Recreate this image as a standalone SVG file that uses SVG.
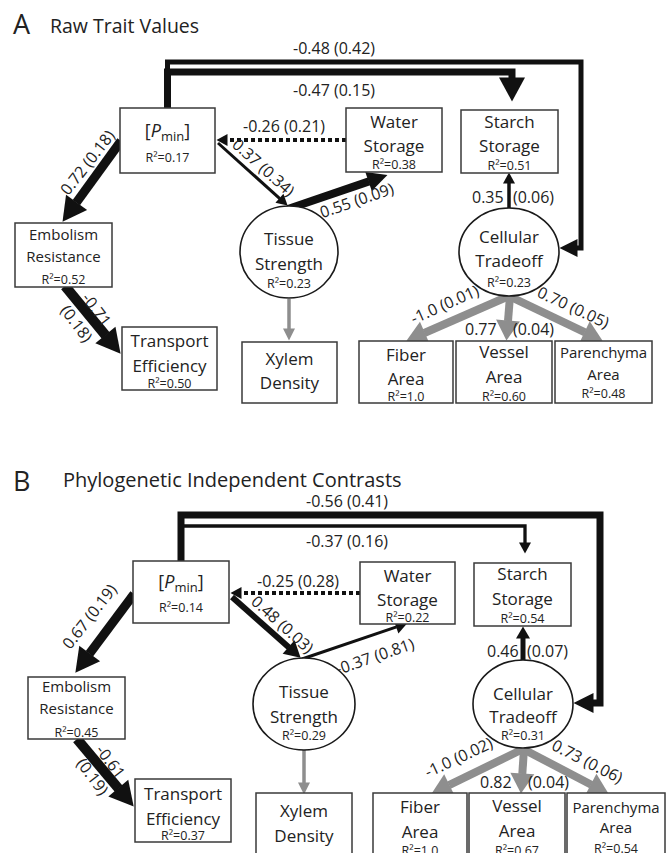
<svg xmlns="http://www.w3.org/2000/svg" width="671" height="853" viewBox="0 0 671 853">
<style>
.box{fill:#fff;stroke:#3a3a3a;stroke-width:1.5}
.ell{fill:#fff;stroke:#1a1a1a;stroke-width:1.6}
text{font-family:"Open Sans","DejaVu Sans",sans-serif;fill:#222}
.n{font-size:17px;text-anchor:middle}
.ns{font-size:15px;text-anchor:middle}
.r2{font-size:12.5px;text-anchor:middle}
.lab{font-size:16px}
.labc{font-size:16px;text-anchor:middle}
.blk{stroke:#111;fill:none}
.gry{stroke:#8e8e8e;fill:none}
.dot{stroke:#111;fill:none;stroke-width:4;stroke-dasharray:4 3}
</style>
<defs>
<marker id="mB24" markerUnits="userSpaceOnUse" orient="auto" refX="0.5" refY="0" markerWidth="30" markerHeight="30" overflow="visible"><path d="M0,-13 L24,0 L0,13 Z" fill="#111"/></marker>
<marker id="mB20" markerUnits="userSpaceOnUse" orient="auto" refX="0.5" refY="0" markerWidth="30" markerHeight="30" overflow="visible"><path d="M0,-10 L20,0 L0,10 Z" fill="#111"/></marker>
<marker id="mB18" markerUnits="userSpaceOnUse" orient="auto" refX="0.5" refY="0" markerWidth="30" markerHeight="30" overflow="visible"><path d="M0,-9 L18,0 L0,9 Z" fill="#111"/></marker>
<marker id="mB16" markerUnits="userSpaceOnUse" orient="auto" refX="0.5" refY="0" markerWidth="30" markerHeight="30" overflow="visible"><path d="M0,-9 L16,0 L0,9 Z" fill="#111"/></marker>
<marker id="mB12" markerUnits="userSpaceOnUse" orient="auto" refX="0.5" refY="0" markerWidth="30" markerHeight="30" overflow="visible"><path d="M0,-7 L12,0 L0,7 Z" fill="#111"/></marker>
<marker id="mBs" markerUnits="userSpaceOnUse" orient="auto" refX="0.5" refY="0" markerWidth="30" markerHeight="30" overflow="visible"><path d="M0,-6 L11,0 L0,6 Z" fill="#111"/></marker>
<marker id="mG20" markerUnits="userSpaceOnUse" orient="auto" refX="0.5" refY="0" markerWidth="30" markerHeight="30" overflow="visible"><path d="M0,-12 L20,0 L0,12 Z" fill="#8e8e8e"/></marker>
<marker id="mGs" markerUnits="userSpaceOnUse" orient="auto" refX="0.5" refY="0" markerWidth="30" markerHeight="30" overflow="visible"><path d="M0,-6 L12,0 L0,6 Z" fill="#8e8e8e"/></marker>
</defs>
<rect width="671" height="853" fill="#fff"/>

<!-- Titles -->
<text x="13" y="34" style="font-size:27px">A</text>
<text x="50" y="33" style="font-size:19.5px">Raw Trait Values</text>
<text x="13" y="491" style="font-size:27px">B</text>
<text x="63" y="487" style="font-size:20px">Phylogenetic Independent Contrasts</text>

<!-- Connectors -->
<g id="connectors">
 <!-- Panel A -->
 <path class="blk" stroke-width="5" d="M167.5,108 V62 H581 V248 H577" marker-end="url(#mB18)"/>
 <path class="blk" stroke-width="7" d="M167.5,108 V72 H512 V78" marker-end="url(#mB24)"/>
 <line class="blk" stroke-width="9" x1="121" y1="141" x2="76.3" y2="202.7" marker-end="url(#mB24)"/>
 <line class="blk" stroke-width="10" x1="65" y1="286" x2="105.7" y2="335.5" marker-end="url(#mB24)"/>
 <line class="blk" stroke-width="3" x1="218" y1="143" x2="279.8" y2="198.6" marker-end="url(#mBs)"/>
 <line class="blk" stroke-width="8" x1="288" y1="209" x2="369" y2="181.4" marker-end="url(#mB20)"/>
 <line class="dot" x1="346" y1="140" x2="227" y2="140" marker-end="url(#mBs)"/>
 <line class="blk" stroke-width="3.5" x1="509" y1="208" x2="509" y2="183" marker-end="url(#mBs)"/>
 <line class="gry" stroke-width="3.5" x1="289" y1="299" x2="289" y2="329" marker-end="url(#mGs)"/>
 <line class="gry" stroke-width="8" x1="509" y1="296" x2="424.3" y2="333" marker-end="url(#mG20)"/>
 <line class="gry" stroke-width="8" x1="510" y1="296" x2="508" y2="321" marker-end="url(#mG20)"/>
 <line class="gry" stroke-width="8" x1="509" y1="296" x2="585" y2="332.4" marker-end="url(#mG20)"/>
 <!-- Panel B -->
 <path class="blk" stroke-width="7" d="M181,561 V515 H600 V703 H593" marker-end="url(#mB20)"/>
 <path class="blk" stroke-width="3.3" d="M181,561 V526 H525 V543" marker-end="url(#mBs)"/>
 <line class="blk" stroke-width="9" x1="134" y1="594" x2="89.4" y2="653.8" marker-end="url(#mB24)"/>
 <line class="blk" stroke-width="10" x1="77" y1="739" x2="118.6" y2="788.6" marker-end="url(#mB24)"/>
 <line class="blk" stroke-width="6" x1="232" y1="597" x2="289" y2="647.4" marker-end="url(#mB16)"/>
 <line class="blk" stroke-width="3" x1="302" y1="659" x2="396.6" y2="626.8" marker-end="url(#mB12)"/>
 <line class="dot" x1="360" y1="593" x2="241" y2="593" marker-end="url(#mBs)"/>
 <line class="blk" stroke-width="5" x1="523" y1="661" x2="523" y2="638" marker-end="url(#mB12)"/>
 <line class="gry" stroke-width="3.5" x1="304" y1="750" x2="304" y2="783" marker-end="url(#mGs)"/>
 <line class="gry" stroke-width="8" x1="523" y1="749" x2="449" y2="785.2" marker-end="url(#mG20)"/>
 <line class="gry" stroke-width="8" x1="524" y1="749" x2="522.3" y2="774" marker-end="url(#mG20)"/>
 <line class="gry" stroke-width="8" x1="523" y1="749" x2="591.3" y2="784.7" marker-end="url(#mG20)"/>
</g>

<!-- Edge labels -->
<g id="edge-labels">
 <text class="lab" x="293" y="54">-0.48 (0.42)</text>
 <text class="lab" x="293" y="96">-0.47 (0.15)</text>
 <text class="lab" x="243" y="132">-0.26 (0.21)</text>
 <text class="labc" transform="translate(263,168) rotate(42)" y="5">0.37 (0.34)</text>
 <text class="labc" transform="translate(357,201) rotate(-19)" y="5">0.55 (0.09)</text>
 <text class="labc" transform="translate(88,163) rotate(-52)" y="5">0.72 (0.18)</text>
 <text class="labc" transform="translate(96,310) rotate(53)" y="5">-0.71</text>
 <text class="labc" transform="translate(76,324) rotate(53)" y="5">(0.18)</text>
 <text class="lab" x="472" y="203">0.35</text>
 <text class="lab" x="513" y="203">(0.06)</text>
 <text class="labc" transform="translate(445,305) rotate(-24)" y="5">-1.0 (0.01)</text>
 <text class="lab" x="465" y="335">0.77</text>
 <text class="lab" x="513" y="335">(0.04)</text>
 <text class="labc" transform="translate(573,308) rotate(25)" y="5">0.70 (0.05)</text>

 <text class="lab" x="306" y="507">-0.56 (0.41)</text>
 <text class="lab" x="306" y="547">-0.37 (0.16)</text>
 <text class="lab" x="257" y="587">-0.25 (0.28)</text>
 <text class="labc" transform="translate(282,625) rotate(42)" y="5">0.48 (0.03)</text>
 <text class="labc" transform="translate(375,657) rotate(-19)" y="5">-0.37 (0.81)</text>
 <text class="labc" transform="translate(90,617) rotate(-52)" y="5">0.67 (0.19)</text>
 <text class="labc" transform="translate(110,762) rotate(53)" y="5">-0.61</text>
 <text class="labc" transform="translate(92,777) rotate(53)" y="5">(0.19)</text>
 <text class="lab" x="487" y="657">0.46</text>
 <text class="lab" x="527" y="657">(0.07)</text>
 <text class="labc" transform="translate(459,758) rotate(-25)" y="5">-1.0 (0.02)</text>
 <text class="lab" x="480" y="788">0.82</text>
 <text class="lab" x="528" y="788">(0.04)</text>
 <text class="labc" transform="translate(587,762) rotate(27)" y="5">0.73 (0.06)</text>
</g>

<!-- Panel A nodes -->
<g id="A-pmin">
 <rect class="box" x="120" y="108" width="95" height="65"/>
 <text class="n" x="167.5" y="137" style="font-size:18px">[<tspan font-style="italic">P</tspan><tspan font-size="13" dy="4">min</tspan><tspan dy="-4">]</tspan></text>
 <text class="r2" x="167.5" y="162">R²=0.17</text>
</g>
<g id="A-water">
 <rect class="box" x="346" y="108" width="96" height="64"/>
 <text class="n" x="394" y="128">Water</text>
 <text class="n" x="394" y="152">Storage</text>
 <text class="r2" x="394" y="169">R²=0.38</text>
</g>
<g id="A-starch">
 <rect class="box" x="461" y="110" width="97" height="63"/>
 <text class="n" x="509.5" y="128">Starch</text>
 <text class="n" x="509.5" y="152">Storage</text>
 <text class="r2" x="509.5" y="170">R²=0.51</text>
</g>
<g id="A-embolism">
 <rect class="box" x="15" y="223" width="97" height="64"/>
 <text class="ns" x="63.5" y="240">Embolism</text>
 <text class="ns" x="63.5" y="262">Resistance</text>
 <text class="r2" x="63.5" y="284">R²=0.52</text>
</g>
<g id="A-transport">
 <rect class="box" x="122" y="327" width="95" height="63"/>
 <text class="n" x="169.5" y="347">Transport</text>
 <text class="n" x="169.5" y="372">Efficiency</text>
 <text class="r2" x="169.5" y="388">R²=0.50</text>
</g>
<g id="A-tissue">
 <ellipse class="ell" cx="289" cy="252" rx="49" ry="46"/>
 <text class="n" x="289" y="245">Tissue</text>
 <text class="n" x="289" y="270">Strength</text>
 <text class="r2" x="289" y="288">R²=0.23</text>
</g>
<g id="A-xylem">
 <rect class="box" x="242" y="342" width="95" height="61"/>
 <text class="n" x="289.5" y="365">Xylem</text>
 <text class="n" x="289.5" y="389">Density</text>
</g>
<g id="A-cellular">
 <ellipse class="ell" cx="509" cy="252" rx="50" ry="44"/>
 <text class="n" x="509" y="243">Cellular</text>
 <text class="n" x="509" y="267">Tradeoff</text>
 <text class="r2" x="509" y="287">R²=0.23</text>
</g>
<g id="A-fiber">
 <rect class="box" x="359" y="341" width="94" height="62"/>
 <text class="n" x="406" y="361">Fiber</text>
 <text class="n" x="406" y="385">Area</text>
 <text class="r2" x="406" y="401">R²=1.0</text>
</g>
<g id="A-vessel">
 <rect class="box" x="456" y="341" width="96" height="62"/>
 <text class="n" x="504" y="358">Vessel</text>
 <text class="n" x="504" y="383">Area</text>
 <text class="r2" x="504" y="401">R²=0.60</text>
</g>
<g id="A-parenchyma">
 <rect class="box" x="555" y="341" width="97" height="62"/>
 <text class="ns" x="603.5" y="358">Parenchyma</text>
 <text class="ns" x="603.5" y="380">Area</text>
 <text class="r2" x="603.5" y="398">R²=0.48</text>
</g>

<!-- Panel B nodes -->
<g id="B-pmin">
 <rect class="box" x="133" y="561" width="96" height="62"/>
 <text class="n" x="181" y="588" style="font-size:18px">[<tspan font-style="italic">P</tspan><tspan font-size="13" dy="4">min</tspan><tspan dy="-4">]</tspan></text>
 <text class="r2" x="181" y="612">R²=0.14</text>
</g>
<g id="B-water">
 <rect class="box" x="360" y="562" width="95" height="62"/>
 <text class="n" x="407.5" y="582">Water</text>
 <text class="n" x="407.5" y="606">Storage</text>
 <text class="r2" x="407.5" y="622">R²=0.22</text>
</g>
<g id="B-starch">
 <rect class="box" x="474" y="563" width="97" height="63"/>
 <text class="n" x="522.5" y="580">Starch</text>
 <text class="n" x="522.5" y="605">Storage</text>
 <text class="r2" x="522.5" y="623">R²=0.54</text>
</g>
<g id="B-embolism">
 <rect class="box" x="28" y="677" width="97" height="62"/>
 <text class="ns" x="76.5" y="692">Embolism</text>
 <text class="ns" x="76.5" y="714">Resistance</text>
 <text class="r2" x="76.5" y="737">R²=0.45</text>
</g>
<g id="B-transport">
 <rect class="box" x="135" y="779" width="96" height="63"/>
 <text class="n" x="183" y="800">Transport</text>
 <text class="n" x="183" y="825">Efficiency</text>
 <text class="r2" x="183" y="840">R²=0.37</text>
</g>
<g id="B-tissue">
 <ellipse class="ell" cx="304" cy="704" rx="51" ry="46"/>
 <text class="n" x="304" y="698">Tissue</text>
 <text class="n" x="304" y="723">Strength</text>
 <text class="r2" x="304" y="740">R²=0.29</text>
</g>
<g id="B-xylem">
 <rect class="box" x="256" y="793" width="96" height="70"/>
 <text class="n" x="304" y="817">Xylem</text>
 <text class="n" x="304" y="842">Density</text>
</g>
<g id="B-cellular">
 <ellipse class="ell" cx="523" cy="704" rx="50" ry="44"/>
 <text class="n" x="523" y="700">Cellular</text>
 <text class="n" x="523" y="723">Tradeoff</text>
 <text class="r2" x="523" y="740">R²=0.31</text>
</g>
<g id="B-fiber">
 <rect class="box" x="373" y="793" width="94" height="70"/>
 <text class="n" x="420" y="813">Fiber</text>
 <text class="n" x="420" y="838">Area</text>
 <text class="r2" x="420" y="855">R²=1.0</text>
</g>
<g id="B-vessel">
 <rect class="box" x="469" y="793" width="96" height="70"/>
 <text class="n" x="517" y="812">Vessel</text>
 <text class="n" x="517" y="837">Area</text>
 <text class="r2" x="517" y="855">R²=0.67</text>
</g>
<g id="B-parenchyma">
 <rect class="box" x="567" y="793" width="98" height="70"/>
 <text class="ns" x="616" y="813">Parenchyma</text>
 <text class="ns" x="616" y="833">Area</text>
 <text class="r2" x="616" y="853">R²=0.54</text>
</g>
</svg>
